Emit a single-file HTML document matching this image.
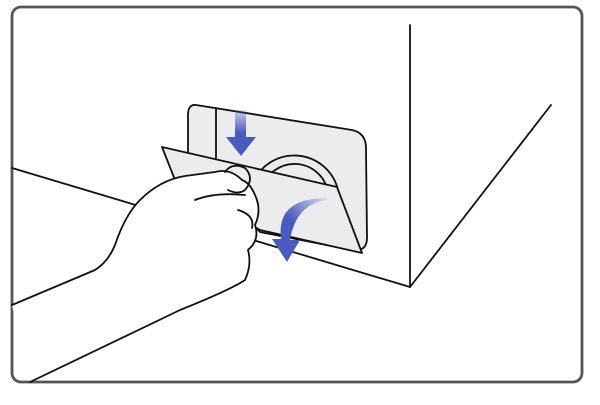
<!DOCTYPE html>
<html><head><style>html,body{margin:0;background:#fff}</style></head><body>
<svg width="600" height="400" viewBox="0 0 600 400" xmlns="http://www.w3.org/2000/svg">
<defs>
<linearGradient id="g1" x1="0" y1="0" x2="0" y2="1"><stop offset="0" stop-color="#4a5bbf" stop-opacity="0.2"/><stop offset="0.5" stop-color="#4a5bbf"/></linearGradient>
<linearGradient id="g2" x1="1" y1="0" x2="0" y2="1"><stop offset="0" stop-color="#4a5bbf" stop-opacity="0.1"/><stop offset="0.5" stop-color="#4a5bbf"/></linearGradient>
</defs>
<rect x="12" y="7" width="570" height="375" rx="9" fill="#fff" stroke="#555" stroke-width="2.8"/>
<g fill="none" stroke="#111" stroke-width="1.8" stroke-linejoin="round" stroke-linecap="round">
<line x1="410" y1="25" x2="410" y2="287"/>
<line x1="410" y1="287" x2="551" y2="105"/>
<line x1="12" y1="168" x2="410" y2="287"/>
<path d="M196,105 L352,130 Q366,133 366,148 L367,238 Q367,252 352,250 L260,232 L188,160 L188,115 Q188,104 196,105 Z" fill="#ececee"/>
<line x1="216" y1="108" x2="216" y2="158"/>
<path d="M252,185 A45,45 0 0 1 338,190" />
<path d="M262,188 A34,34 0 0 1 328,192" />
<path d="M162,147 L337,187 L362,253 L260,230 L175,180 Z" fill="#ececee"/>
<path d="M30,382 L180,310 Q230,290 245,280 Q252,265 248,250 Q260,240 255,225 Q262,210 255,195 Q250,183 242,180 Q230,168 215,172 L185,176 Q160,180 140,200 Q125,215 115,245 Q108,262 95,270 L12,305" fill="#fff"/>
<path d="M225,172 Q232,162 245,168 Q255,178 245,190 Q238,195 228,190"/>
<path d="M195,200 Q215,192 245,195"/>
<path d="M238,210 Q255,215 252,228"/>
</g>
<path d="M235,110 h11 v27 h10 l-15,19 l-15,-19 h9 Z" fill="url(#g1)"/>
<path d="M327,200 Q296,204 290,240 l10,0 l-13,22 l-15,-23 l9,0 Q276,198 327,198 Z" fill="url(#g2)"/>
</svg>
</body></html>
